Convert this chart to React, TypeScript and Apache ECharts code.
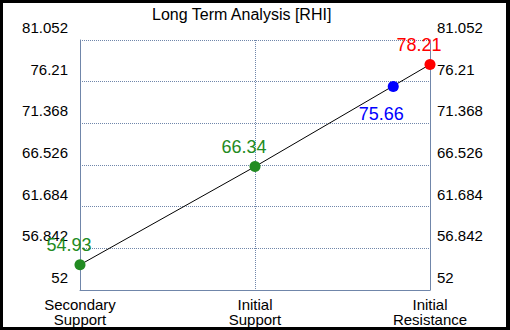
import React, { useEffect, useRef } from "react";
import * as echarts from "echarts";

const titleText = "Long Term Analysis [RHI]";
const categories = ["Secondary\nSupport", "Initial\nSupport", "Initial\nResistance"];
const lineX = [0, 1, 2];
const lineValues = [54.93, 66.34, 78.21];
const pointNames = ["Secondary Support", "Initial Support", "Current", "Initial Resistance"];
const pointX = [0, 1, 1.79, 2];
const pointValues = [54.93, 66.34, 75.66, 78.21];
const pointColors = ["#228b22", "#228b22", "#0000ff", "#ff0000"];
const yMin = 52;
const yMax = 81.052;
const yInterval = 4.842;

const FONT = "'Liberation Sans', Arial, sans-serif";
const AXIS_COLOR = "#7086aa";

export default function App() {
  const ref = useRef<HTMLDivElement>(null);
  useEffect(() => {
    if (!ref.current) return;
    const chart = echarts.init(ref.current, null, { renderer: "svg" });
    const fmtY = (v: number) => String(Number(v.toFixed(3)));
    const yAxisBase = {
      type: "value" as const,
      min: yMin,
      max: yMax,
      interval: yInterval,
      axisTick: { show: false },
      axisLine: { show: true, lineStyle: { color: AXIS_COLOR, width: 1 } },
    };
    chart.setOption({
      animation: false,
      backgroundColor: "transparent",
      textStyle: { fontFamily: FONT },
      title: {
        text: titleText,
        left: 147,
        top: 1,
        textStyle: { fontFamily: FONT, fontSize: 16, fontWeight: "normal", color: "#000" },
      },
      grid: { left: 80, right: 80, top: 40, bottom: 40, containLabel: false },
      xAxis: {
        type: "value",
        min: 0,
        max: 2,
        interval: 1,
        axisTick: { show: false },
        axisLine: { show: true, lineStyle: { color: AXIS_COLOR, width: 1 } },
        splitLine: { show: true, lineStyle: { color: AXIS_COLOR, type: "dotted", width: 1 } },
        axisLabel: {
          formatter: (v: number) => categories[Math.round(v)] ?? "",
          color: "#000",
          fontFamily: FONT,
          fontSize: 15,
          lineHeight: 15,
          margin: 7,
        },
      },
      yAxis: [
        {
          ...yAxisBase,
          position: "left",
          splitLine: { show: true, lineStyle: { color: AXIS_COLOR, type: "dotted", width: 1 } },
          axisLabel: {
            formatter: fmtY,
            color: "#000",
            fontFamily: FONT,
            fontSize: 15,
            lineHeight: 15,
            margin: 12,
            verticalAlign: "bottom",
            padding: [0, 0, 5, 0],
          },
        },
        {
          ...yAxisBase,
          position: "right",
          splitLine: { show: false },
          axisLabel: {
            formatter: fmtY,
            color: "#000",
            fontFamily: FONT,
            fontSize: 15,
            lineHeight: 15,
            margin: 7,
            verticalAlign: "bottom",
            padding: [0, 0, 5, 0],
          },
        },
      ],
      series: [
        {
          type: "line",
          data: lineX.map((x, i) => [x, lineValues[i]]),
          showSymbol: false,
          symbol: "none",
          lineStyle: { color: "#000", width: 1 },
          z: 2,
        },
        {
          type: "scatter",
          symbolSize: 11,
          z: 3,
          itemStyle: { opacity: 1 },
          data: pointX.map((x, i) => ({
            name: pointNames[i],
            value: [x, pointValues[i]],
            itemStyle: { color: pointColors[i], opacity: 1 },
            label: {
              show: true,
              formatter: String(pointValues[i]),
              position: i === 2 ? "bottom" : "top",
              offset: i === 2 ? [-12, 8] : [-11, 0],
              color: pointColors[i],
              opacity: 1,
              fontFamily: FONT,
              fontSize: 18,
            },
          })),
        },
      ],
    });
    return () => chart.dispose();
  }, []);
  return (
    <div style={{ position: "absolute", left: 0, top: 0, width: 510, height: 330, background: "#000" }}>
      <div style={{ position: "absolute", left: 3, top: 3, width: 503, height: 324, background: "#fff" }} />
      <div ref={ref} style={{ position: "absolute", left: 0, top: 0, width: 510, height: 330 }} />
    </div>
  );
}
